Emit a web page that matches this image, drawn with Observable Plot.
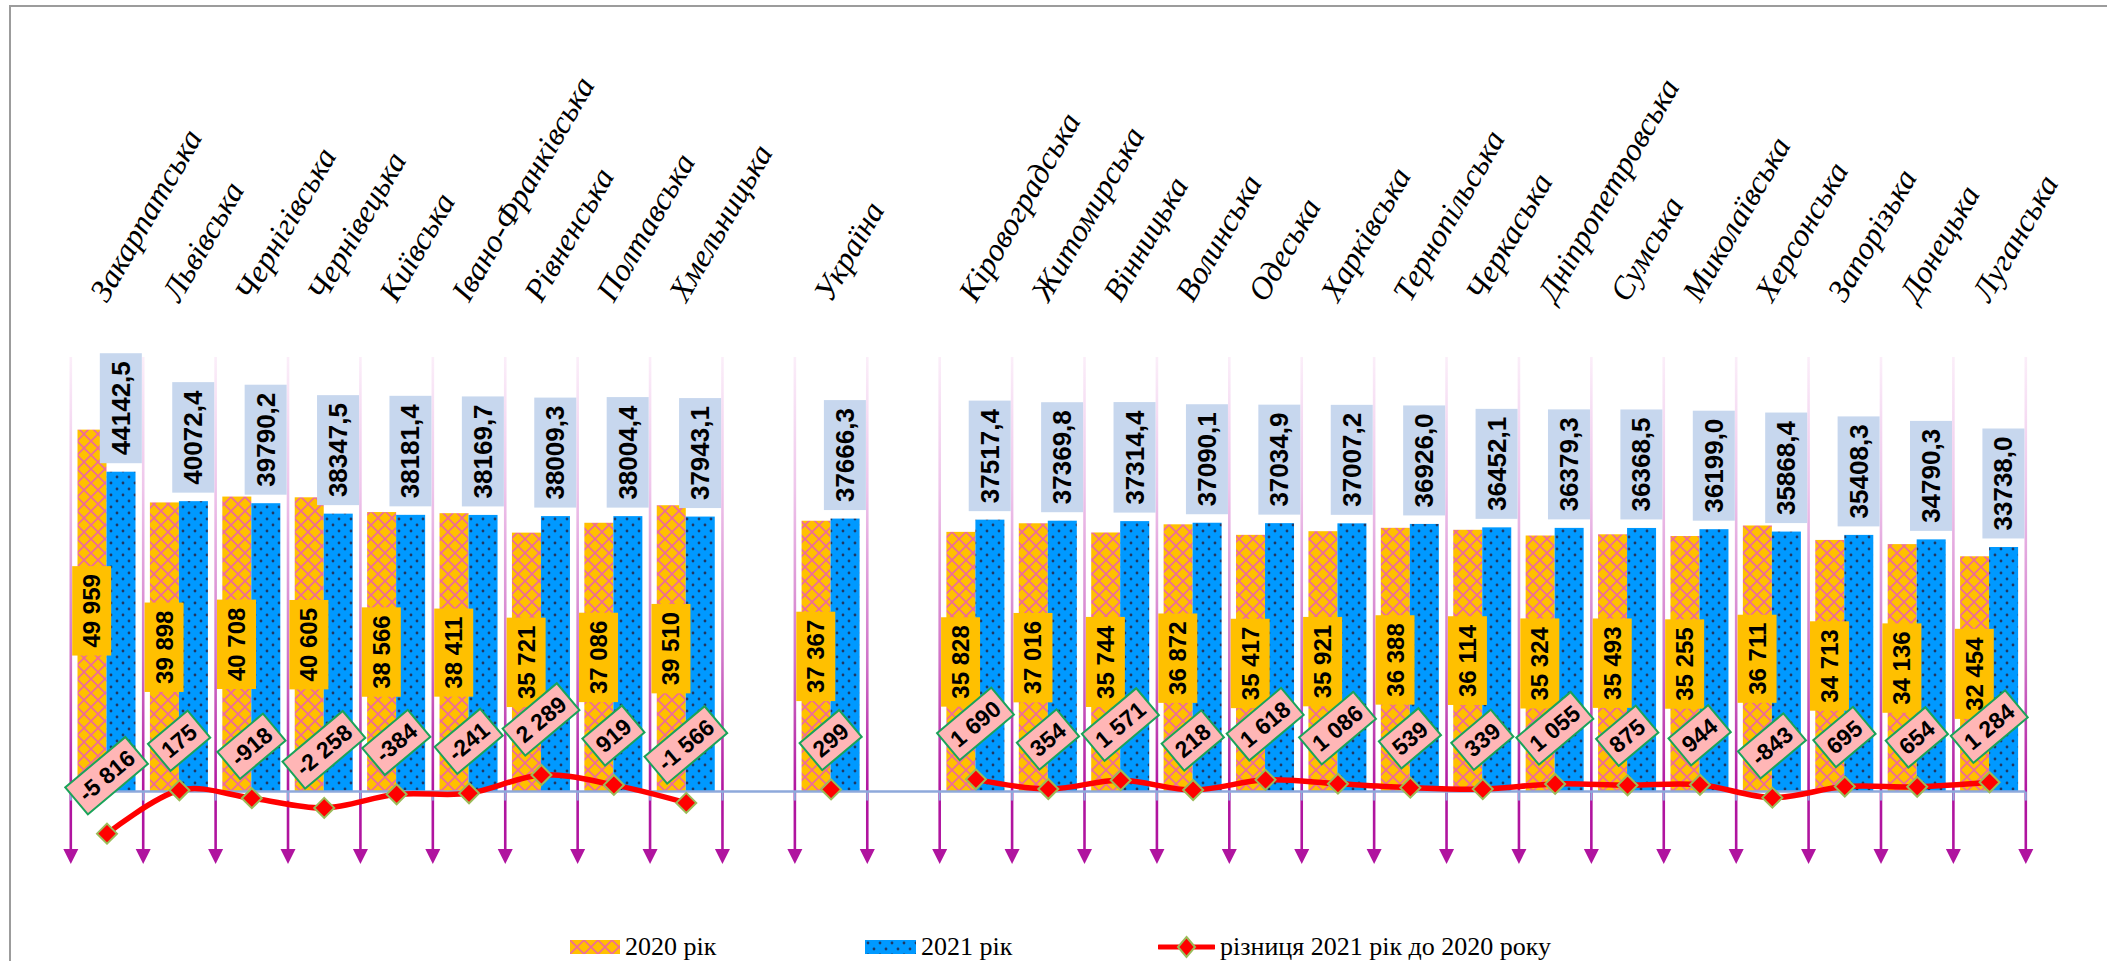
<!DOCTYPE html>
<html>
<head>
<meta charset="utf-8">
<script src="https://cdn.jsdelivr.net/npm/d3@7"></script>
<script src="https://cdn.jsdelivr.net/npm/@observablehq/plot@0.6"></script>
<style>
html, body { margin: 0; padding: 0; background: #fff; }
body { width: 2107px; height: 961px; overflow: hidden; position: relative; font-family: "Liberation Serif", "Times New Roman", serif; }
#chart { position: absolute; left: 0; top: 0; }
#legend { position: absolute; left: 0; top: 925px; width: 2107px; height: 44px; }
.item { position: absolute; top: 0; height: 44px; display: flex; align-items: center; font-size: 26px; color: #000; white-space: nowrap; }
.item svg { display: block; margin-right: 5px; }
#frame { position: absolute; left: 9px; top: 5px; width: 2300px; height: 1200px; border: 2px solid #9c9c9c; box-sizing: border-box; pointer-events: none; }
</style>
</head>
<body>
<div id="chart"></div>
<div id="legend"></div>
<div id="frame"></div>
<script>
// ---------------- data ----------------
const regions = ["Закарпатська","Львівська","Чернігівська","Чернівецька","Київська","Івано-Франківська","Рівненська","Полтавська","Хмельницька","Україна","Кіровоградська","Житомирська","Вінницька","Волинська","Одеська","Харківська","Тернопільська","Черкаська","Дніпропетровська","Сумська","Миколаївська","Херсонська","Запорізька","Донецька","Луганська"];
const values2020 = [49959, 39898, 40708, 40605, 38566, 38411, 35721, 37086, 39510, 37367, 35828, 37016, 35744, 36872, 35417, 35921, 36388, 36114, 35324, 35493, 35255, 36711, 34713, 34136, 32454];
const values2021 = [44142.5, 40072.4, 39790.2, 38347.5, 38181.4, 38169.7, 38009.3, 38004.4, 37943.1, 37666.3, 37517.4, 37369.8, 37314.4, 37090.1, 37034.9, 37007.2, 36926.0, 36452.1, 36379.3, 36368.5, 36199.0, 35868.4, 35408.3, 34790.3, 33738.0];
const diff = [-5816, 175, -918, -2258, -384, -241, 2289, 919, -1566, 299, 1690, 354, 1571, 218, 1618, 1086, 539, 339, 1055, 875, 944, -843, 695, 654, 1284];
const seriesNames = ["2020 рік", "2021 рік", "різниця 2021 рік до 2020 року"];
// category slots (two empty slots around "Україна")
const slots = [...regions.slice(0, 9), "gap-a", regions[9], "gap-b", ...regions.slice(10)];
const yDomain = [-10000, 60000];

// ---------------- layout ----------------
const W = 2107, H = 925;
const ml = 70.3, mr = 81.7, mt = 357, mb = 61.6;
const bw = (W - ml - mr) / slots.length;
const outerInset = 7.2;
const barShift = (bw / 2 - outerInset) / 2;

const loc = d3.formatLocale({decimal: ",", thousands: "\u00a0", grouping: [3], currency: ["", ""], minus: "-"});
const fInt = loc.format(",d");
const fDec = loc.format(".1f");

const rows = regions.map((r, i) => ({region: r, v20: values2020[i], v21: values2021[i], d: diff[i]}));
const lineRows = slots.map(s => { const i = regions.indexOf(s); return {slot: s, d: i >= 0 ? diff[i] : NaN}; });

const arrowSym = {draw(ctx) { ctx.moveTo(0, 0); ctx.lineTo(-7.5, -15); ctx.lineTo(7.5, -15); ctx.closePath(); }};
const tickSym = {draw(ctx) { ctx.moveTo(0, 0); ctx.lineTo(0, 9); }};
const purple = "#b0149f";
const lastSlot = [slots[slots.length - 1]];
const labelFont = "Liberation Sans, Arial, sans-serif";

const chart = Plot.plot({
  width: W, height: H,
  marginLeft: ml, marginRight: mr, marginTop: mt, marginBottom: mb,
  style: {background: "transparent", overflow: "visible"},
  x: {type: "band", domain: slots, padding: 0, round: false, axis: null},
  y: {domain: yDomain, axis: null},
  marks: [
    // vertical category separators with arrows
    Plot.ruleX(slots, {x: d => d, y1: () => yDomain[1], y2: () => yDomain[0], insetBottom: 14, dx: -bw / 2, stroke: "url(#vgrad)", strokeWidth: 2.6}),
    Plot.ruleX(lastSlot, {x: d => d, y1: () => yDomain[1], y2: () => yDomain[0], insetBottom: 14, dx: bw / 2, stroke: "url(#vgrad)", strokeWidth: 2.6}),
    Plot.dot(slots, {x: d => d, y: () => yDomain[0], dx: -bw / 2, symbol: arrowSym, fill: purple, stroke: "none"}),
    Plot.dot(lastSlot, {x: d => d, y: () => yDomain[0], dx: bw / 2, symbol: arrowSym, fill: purple, stroke: "none"}),
    // bars
    Plot.barY(rows, {x: "region", y: "v20", fill: "url(#p2020)", insetLeft: outerInset, insetRight: bw / 2}),
    Plot.barY(rows, {x: "region", y: "v21", fill: "url(#p2021)", insetLeft: bw / 2, insetRight: outerInset}),
    // baseline with small ticks
    Plot.ruleY([0], {stroke: "#8ea9db", strokeWidth: 2.5}),
    Plot.dot(slots, {x: d => d, y: () => 0, dx: -bw / 2, symbol: tickSym, fill: "none", stroke: "#8ea9db", strokeWidth: 2}),
    Plot.dot(lastSlot, {x: d => d, y: () => 0, dx: bw / 2, symbol: tickSym, fill: "none", stroke: "#8ea9db", strokeWidth: 2}),
    // difference line
    Plot.line(lineRows, {x: "slot", y: "d", curve: "cardinal", stroke: "#ff0000", strokeWidth: 5.5, strokeLinejoin: "round"}),
    Plot.dot(rows, {x: "region", y: "d", symbol: "diamond2", r: 9, fill: "#ff0000", stroke: "#9bbb59", strokeWidth: 2}),
    // labels 2020 (inside, centered)  -> text mark #0
    Plot.text(rows, {x: "region", y: d => d.v20 / 2, text: d => fInt(d.v20), rotate: -90, dx: -barShift,
      fontFamily: labelFont, fontWeight: "bold", fontSize: 24, fill: "#000"}),
    // labels 2021 (outside end)  -> text mark #1
    Plot.text(rows, {x: "region", y: "v21", text: d => fDec(d.v21), rotate: -90, dx: barShift, dy: -64,
      fontFamily: labelFont, fontWeight: "bold", fontSize: 26, fill: "#000"}),
    // difference labels  -> text mark #2
    Plot.text(rows, {x: "region", y: "d", text: d => fInt(d.d), rotate: -40,
      fontFamily: labelFont, fontWeight: "bold", fontSize: 23, fill: "#000"}),
    // category labels  -> text mark #3
    Plot.text(regions, {x: d => d, frameAnchor: "top", dy: -54, rotate: -60, textAnchor: "start", lineAnchor: "bottom",
      fontFamily: "Liberation Serif, Times New Roman, serif", fontStyle: "italic", fontSize: 32, fill: "#000"})
  ]
});

document.getElementById("chart").appendChild(chart);

// ---------------- defs (patterns, gradient) ----------------
const ns = "http://www.w3.org/2000/svg";
const ys = chart.scale("y");
const yTop = ys.apply(yDomain[1]), yZero = ys.apply(0);
const defs = document.createElementNS(ns, "defs");
defs.innerHTML = `
<linearGradient id="vgrad" gradientUnits="userSpaceOnUse" x1="0" y1="${yTop}" x2="0" y2="${yZero}">
  <stop offset="0" stop-color="#fbeef9"/>
  <stop offset="0.3" stop-color="#efc6eb"/>
  <stop offset="0.7" stop-color="#cf74c8"/>
  <stop offset="1" stop-color="${purple}"/>
</linearGradient>
<pattern id="p2020" patternUnits="userSpaceOnUse" width="14" height="14">
  <rect width="14" height="14" fill="#ffc000"/>
  <path d="M-1,-1L15,15M15,-1L-1,15" stroke="#ee6a9a" stroke-width="1.6"/>
</pattern>
<pattern id="p2021" patternUnits="userSpaceOnUse" width="12" height="12">
  <rect width="12" height="12" fill="#0099ff"/>
  <circle cx="3" cy="3" r="1.4" fill="#1f3864"/>
  <circle cx="9" cy="9" r="1.4" fill="#1f3864"/>
</pattern>`;
chart.insertBefore(defs, chart.firstChild);

// ---------------- label boxes ----------------
const textGroups = Array.from(chart.children).filter(el => el.tagName.toLowerCase() === "g" && el.querySelector("text"));
function addBoxes(g, fill, stroke, padX, padY, shiftFn) {
  if (!g) return;
  Array.from(g.querySelectorAll("text")).forEach(t => {
    const b = t.getBBox();
    const r = document.createElementNS(ns, "rect");
    const w = b.width + 2 * padX, h = b.height + 2 * padY;
    r.setAttribute("x", b.x - padX);
    r.setAttribute("y", b.y - padY);
    r.setAttribute("width", w);
    r.setAttribute("height", h);
    r.setAttribute("fill", fill);
    if (stroke) { r.setAttribute("stroke", stroke); r.setAttribute("stroke-width", 2); }
    let tr = t.getAttribute("transform") || "";
    if (shiftFn) tr = `translate(0,${-shiftFn(w, h)}) ` + tr;
    t.setAttribute("transform", tr);
    r.setAttribute("transform", tr);
    t.parentNode.insertBefore(r, t);
  });
}
addBoxes(textGroups[0], "#ffc000", null, 8, 6);
addBoxes(textGroups[1], "#c7d7ee", null, 8, 6);
const th = 40 * Math.PI / 180;
addBoxes(textGroups[2], "#ffb6b6", "#1aa35a", 6.6, 4.6, (w, h) => 18.8 + (w * Math.sin(th) + h * Math.cos(th)) / 2);

// ---------------- legend ----------------
const legend = document.getElementById("legend");
const legendItems = [
  {left: 570, name: seriesNames[0], svg: `<svg width="50" height="14"><defs><pattern id="lp20" patternUnits="userSpaceOnUse" width="14" height="14"><rect width="14" height="14" fill="#ffc000"/><path d="M-1,-1L15,15M15,-1L-1,15" stroke="#ee6a9a" stroke-width="1.6"/></pattern></defs><rect width="50" height="14" fill="url(#lp20)"/></svg>`},
  {left: 865, name: seriesNames[1], svg: `<svg width="51" height="14"><defs><pattern id="lp21" patternUnits="userSpaceOnUse" width="12" height="12"><rect width="12" height="12" fill="#0099ff"/><circle cx="3" cy="3" r="1.4" fill="#1f3864"/><circle cx="9" cy="9" r="1.4" fill="#1f3864"/></pattern></defs><rect width="51" height="14" fill="url(#lp21)"/></svg>`},
  {left: 1158, name: seriesNames[2], svg: `<svg width="57" height="24"><line x1="1" y1="12" x2="56" y2="12" stroke="#ff0000" stroke-width="5" stroke-linecap="round"/><path d="M28.5,2L37,12L28.5,22L20,12Z" fill="#ff0000" stroke="#9bbb59" stroke-width="2"/></svg>`}
];
legendItems.forEach(it => {
  const div = document.createElement("div");
  div.className = "item";
  div.style.left = it.left + "px";
  div.innerHTML = it.svg + `<span>${it.name}</span>`;
  legend.appendChild(div);
});
</script>
</body>
</html>
